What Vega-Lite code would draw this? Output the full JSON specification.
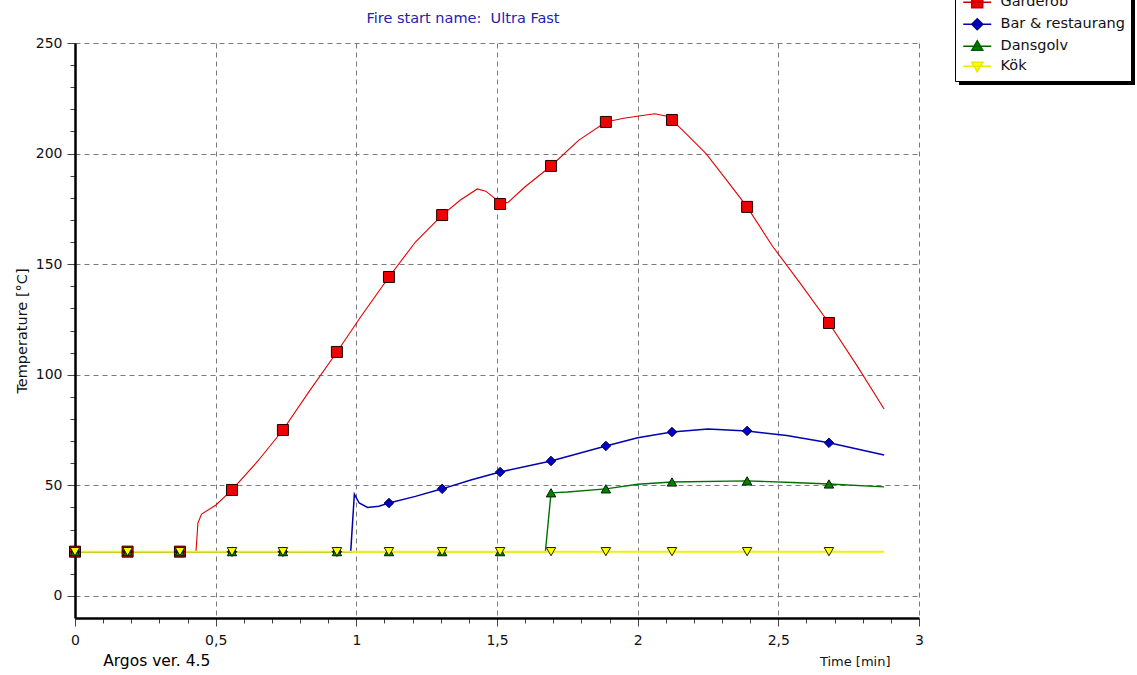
{
  "$schema": "https://vega.github.io/schema/vega-lite/v6.json",
  "width": 844,
  "height": 575,
  "autosize": {"type": "none"},
  "padding": {"left": 75, "top": 43, "right": 218, "bottom": 57},
  "background": "white",
  "title": {"text": "Fire start name:\u00a0 Ultra Fast", "color": "#2222b0", "font": "DejaVu Sans", "fontSize": 14.5, "fontWeight": "normal", "anchor": "middle", "frame": "group", "dx": -34, "dy": 38, "offset": 0},
  "config": {"view": {"stroke": null}, "font": "DejaVu Sans"},
  "datasets": {
    "series": [
    {"s": "Garderob", "t": 0, "T": 20, "m": 1},
    {"s": "Garderob", "t": 0.187, "T": 20, "m": 1},
    {"s": "Garderob", "t": 0.373, "T": 20, "m": 1},
    {"s": "Garderob", "t": 0.43, "T": 20, "m": 0},
    {"s": "Garderob", "t": 0.437, "T": 33, "m": 0},
    {"s": "Garderob", "t": 0.45, "T": 37, "m": 0},
    {"s": "Garderob", "t": 0.5, "T": 41, "m": 0},
    {"s": "Garderob", "t": 0.558, "T": 47.9, "m": 1},
    {"s": "Garderob", "t": 0.65, "T": 61, "m": 0},
    {"s": "Garderob", "t": 0.739, "T": 75, "m": 1},
    {"s": "Garderob", "t": 0.83, "T": 92, "m": 0},
    {"s": "Garderob", "t": 0.931, "T": 110.3, "m": 1},
    {"s": "Garderob", "t": 1.02, "T": 127, "m": 0},
    {"s": "Garderob", "t": 1.116, "T": 144.2, "m": 1},
    {"s": "Garderob", "t": 1.21, "T": 160, "m": 0},
    {"s": "Garderob", "t": 1.305, "T": 172.2, "m": 1},
    {"s": "Garderob", "t": 1.37, "T": 179, "m": 0},
    {"s": "Garderob", "t": 1.43, "T": 184, "m": 0},
    {"s": "Garderob", "t": 1.46, "T": 183, "m": 0},
    {"s": "Garderob", "t": 1.49, "T": 180, "m": 0},
    {"s": "Garderob", "t": 1.511, "T": 177.2, "m": 1},
    {"s": "Garderob", "t": 1.54, "T": 178, "m": 0},
    {"s": "Garderob", "t": 1.6, "T": 185, "m": 0},
    {"s": "Garderob", "t": 1.692, "T": 194.4, "m": 1},
    {"s": "Garderob", "t": 1.79, "T": 206, "m": 0},
    {"s": "Garderob", "t": 1.887, "T": 214.3, "m": 1},
    {"s": "Garderob", "t": 1.95, "T": 216, "m": 0},
    {"s": "Garderob", "t": 2.06, "T": 218, "m": 0},
    {"s": "Garderob", "t": 2.1, "T": 217, "m": 0},
    {"s": "Garderob", "t": 2.122, "T": 215.2, "m": 1},
    {"s": "Garderob", "t": 2.18, "T": 208, "m": 0},
    {"s": "Garderob", "t": 2.243, "T": 200, "m": 0},
    {"s": "Garderob", "t": 2.31, "T": 189, "m": 0},
    {"s": "Garderob", "t": 2.389, "T": 175.9, "m": 1},
    {"s": "Garderob", "t": 2.48, "T": 158, "m": 0},
    {"s": "Garderob", "t": 2.58, "T": 141, "m": 0},
    {"s": "Garderob", "t": 2.68, "T": 123.4, "m": 1},
    {"s": "Garderob", "t": 2.78, "T": 104, "m": 0},
    {"s": "Garderob", "t": 2.876, "T": 84.5, "m": 0},
    {"s": "Bar & restaurang", "t": 0, "T": 20, "m": 1},
    {"s": "Bar & restaurang", "t": 0.187, "T": 20, "m": 1},
    {"s": "Bar & restaurang", "t": 0.373, "T": 20, "m": 1},
    {"s": "Bar & restaurang", "t": 0.558, "T": 20, "m": 1},
    {"s": "Bar & restaurang", "t": 0.739, "T": 20, "m": 1},
    {"s": "Bar & restaurang", "t": 0.931, "T": 20, "m": 1},
    {"s": "Bar & restaurang", "t": 0.98, "T": 20, "m": 0},
    {"s": "Bar & restaurang", "t": 0.993, "T": 46, "m": 0},
    {"s": "Bar & restaurang", "t": 1.01, "T": 42, "m": 0},
    {"s": "Bar & restaurang", "t": 1.04, "T": 40, "m": 0},
    {"s": "Bar & restaurang", "t": 1.08, "T": 40.5, "m": 0},
    {"s": "Bar & restaurang", "t": 1.116, "T": 42, "m": 1},
    {"s": "Bar & restaurang", "t": 1.21, "T": 45, "m": 0},
    {"s": "Bar & restaurang", "t": 1.305, "T": 48.4, "m": 1},
    {"s": "Bar & restaurang", "t": 1.41, "T": 52.5, "m": 0},
    {"s": "Bar & restaurang", "t": 1.511, "T": 56, "m": 1},
    {"s": "Bar & restaurang", "t": 1.692, "T": 61, "m": 1},
    {"s": "Bar & restaurang", "t": 1.887, "T": 67.8, "m": 1},
    {"s": "Bar & restaurang", "t": 2.0, "T": 71.5, "m": 0},
    {"s": "Bar & restaurang", "t": 2.122, "T": 74.1, "m": 1},
    {"s": "Bar & restaurang", "t": 2.25, "T": 75.5, "m": 0},
    {"s": "Bar & restaurang", "t": 2.389, "T": 74.6, "m": 1},
    {"s": "Bar & restaurang", "t": 2.53, "T": 72.5, "m": 0},
    {"s": "Bar & restaurang", "t": 2.68, "T": 69.2, "m": 1},
    {"s": "Bar & restaurang", "t": 2.876, "T": 63.7, "m": 0},
    {"s": "Dansgolv", "t": 0, "T": 20, "m": 1},
    {"s": "Dansgolv", "t": 0.187, "T": 20, "m": 1},
    {"s": "Dansgolv", "t": 0.373, "T": 20, "m": 1},
    {"s": "Dansgolv", "t": 0.558, "T": 20, "m": 1},
    {"s": "Dansgolv", "t": 0.739, "T": 20, "m": 1},
    {"s": "Dansgolv", "t": 0.931, "T": 20, "m": 1},
    {"s": "Dansgolv", "t": 1.116, "T": 20, "m": 1},
    {"s": "Dansgolv", "t": 1.305, "T": 20, "m": 1},
    {"s": "Dansgolv", "t": 1.511, "T": 20, "m": 1},
    {"s": "Dansgolv", "t": 1.672, "T": 20, "m": 0},
    {"s": "Dansgolv", "t": 1.692, "T": 46.6, "m": 1},
    {"s": "Dansgolv", "t": 1.75, "T": 47, "m": 0},
    {"s": "Dansgolv", "t": 1.887, "T": 48.4, "m": 1},
    {"s": "Dansgolv", "t": 2.0, "T": 50.5, "m": 0},
    {"s": "Dansgolv", "t": 2.122, "T": 51.5, "m": 1},
    {"s": "Dansgolv", "t": 2.389, "T": 52, "m": 1},
    {"s": "Dansgolv", "t": 2.55, "T": 51.3, "m": 0},
    {"s": "Dansgolv", "t": 2.68, "T": 50.6, "m": 1},
    {"s": "Dansgolv", "t": 2.876, "T": 49.3, "m": 0},
    {"s": "Kök", "t": 0, "T": 20, "m": 1},
    {"s": "Kök", "t": 0.187, "T": 20, "m": 1},
    {"s": "Kök", "t": 0.373, "T": 20, "m": 1},
    {"s": "Kök", "t": 0.558, "T": 20, "m": 1},
    {"s": "Kök", "t": 0.739, "T": 20, "m": 1},
    {"s": "Kök", "t": 0.931, "T": 20, "m": 1},
    {"s": "Kök", "t": 1.116, "T": 20, "m": 1},
    {"s": "Kök", "t": 1.305, "T": 20, "m": 1},
    {"s": "Kök", "t": 1.511, "T": 20, "m": 1},
    {"s": "Kök", "t": 1.692, "T": 20, "m": 1},
    {"s": "Kök", "t": 1.887, "T": 20, "m": 1},
    {"s": "Kök", "t": 2.122, "T": 20, "m": 1},
    {"s": "Kök", "t": 2.389, "T": 20, "m": 1},
    {"s": "Kök", "t": 2.68, "T": 20, "m": 1},
    {"s": "Kök", "t": 2.876, "T": 20, "m": 0}
  ]},
  "data": {"name": "series"},
  "encoding": {
    "x": {"field": "t", "type": "quantitative", "scale": {"domain": [0, 3], "nice": false, "zero": false},
      "axis": {
        "values": [0,0.1,0.2,0.3,0.4,0.5,0.6,0.7,0.8,0.9,1,1.1,1.2,1.3,1.4,1.5,1.6,1.7,1.8,1.9,2,2.1,2.2,2.3,2.4,2.5,2.6,2.7,2.8,2.9,3],
        "labelExpr": "abs(datum.value*2 - round(datum.value*2)) < 0.001 ? replace(format(datum.value, '~g'), '.', ',') : ''",
        "tickSize": {"condition": {"test": "abs(datum.value*2 - round(datum.value*2)) < 0.001", "value": 8}, "value": 5},
        "gridOpacity": {"condition": {"test": "abs(datum.value*2 - round(datum.value*2)) < 0.001", "value": 1}, "value": 0},
        "grid": true, "gridColor": "#7a7a7a", "gridDash": [5, 4], "gridWidth": 1,
        "domainColor": "black", "domainWidth": 2.5, "tickColor": "#444", "tickWidth": 1,
        "labelFlush": false, "labelOverlap": false, "labelFontSize": 14, "labelColor": "#111", "labelPadding": 7, "labelFont": "DejaVu Sans",
        "title": "Time [min]", "titleX": 815, "titleY": 43, "titleAlign": "right", "titleBaseline": "middle", "titleFontSize": 13, "titleFontWeight": "normal", "titleColor": "#111", "titleFont": "DejaVu Sans"
      }},
    "y": {"field": "T", "type": "quantitative", "scale": {"domain": [-10, 250], "nice": false, "zero": false},
      "axis": {
        "values": [0,10,20,30,40,50,60,70,80,90,100,110,120,130,140,150,160,170,180,190,200,210,220,230,240,250],
        "labelExpr": "datum.value % 50 == 0 ? datum.label : ''",
        "tickSize": {"condition": {"test": "datum.value % 50 == 0", "value": 8}, "value": 5},
        "gridOpacity": {"condition": {"test": "datum.value % 50 == 0", "value": 1}, "value": 0},
        "grid": true, "gridColor": "#7a7a7a", "gridDash": [5, 4], "gridWidth": 1,
        "domainColor": "black", "domainWidth": 2.5, "tickColor": "#444", "tickWidth": 1,
        "labelOverlap": false, "labelFontSize": 14, "labelColor": "#111", "labelPadding": 5, "labelFont": "DejaVu Sans",
        "title": "Temperature [°C]", "titleFontSize": 14.5, "titleFontWeight": "normal", "titleColor": "#111", "titlePadding": 6, "titleFont": "DejaVu Sans"
      }}
  },
  "layer": [
    {
      "transform": [{"filter": "datum.m == 1"}],
      "mark": {"type": "point", "filled": true, "strokeWidth": 1.2, "opacity": 0},
      "encoding": {
        "fill": {"field": "s", "type": "nominal", "scale": {"domain": ["Garderob", "Bar & restaurang", "Dansgolv", "Kök"], "range": ["#f00000", "#0000c8", "#008000", "#ffff00"]}},
        "stroke": {"field": "s", "type": "nominal", "scale": {"domain": ["Garderob", "Bar & restaurang", "Dansgolv", "Kök"], "range": ["#c00000", "#0000a0", "#006000", "#e8e800"]}},
        "shape": {"field": "s", "type": "nominal",
          "scale": {"domain": ["Garderob", "Bar & restaurang", "Dansgolv", "Kök"], "range": [
            "M-2.8,0H2.8M-1.1,-1.1H1.1V1.1H-1.1Z",
            "M-2.8,0H2.8M0,-1.1L1.1,0L0,1.1L-1.1,0Z",
            "M-2.8,0H2.8M0,-1.1L1.1,0.8L-1.1,0.8Z",
            "M-2.8,0H2.8M0,1.1L1.1,-0.8L-1.1,-0.8Z"]},
          "legend": {"title": null, "orient": "none", "legendX": 880, "legendY": -54, "zindex": 2, "fillColor": "white", "strokeColor": "black", "padding": 6, "labelFontSize": 14.5, "labelFont": "DejaVu Sans", "labelColor": "#111", "symbolSize": 100, "symbolOpacity": 1, "symbolOffset": 9, "labelOffset": 16, "rowPadding": 4, "labelLimit": 250}}
      }
    },
    {
      "transform": [{"filter": "datum.s == 'Garderob'"}],
      "mark": {"type": "line", "color": "#e00000", "strokeWidth": 1.1}
    },
    {
      "transform": [{"filter": "datum.s == 'Bar & restaurang'"}],
      "mark": {"type": "line", "color": "#0000b0", "strokeWidth": 1.5}
    },
    {
      "transform": [{"filter": "datum.s == 'Dansgolv'"}],
      "mark": {"type": "line", "color": "#007000", "strokeWidth": 1.4}
    },
    {
      "transform": [{"filter": "datum.s == 'Kök'"}],
      "mark": {"type": "line", "color": "#f2f200", "strokeWidth": 2}
    },
    {
      "transform": [{"filter": "datum.s == 'Garderob' && datum.m == 1"}],
      "mark": {"type": "point", "shape": "square", "filled": true, "fill": "#f00000", "stroke": "#200000", "strokeWidth": 1, "opacity": 1, "size": 121}
    },
    {
      "transform": [{"filter": "datum.s == 'Bar & restaurang' && datum.m == 1"}],
      "mark": {"type": "point", "shape": "diamond", "filled": true, "fill": "#0000c8", "stroke": "#000040", "strokeWidth": 1, "opacity": 1, "size": 90}
    },
    {
      "transform": [{"filter": "datum.s == 'Dansgolv' && datum.m == 1"}],
      "mark": {"type": "point", "shape": "triangle-up", "filled": true, "fill": "#008000", "stroke": "#002000", "strokeWidth": 1, "opacity": 1, "size": 90}
    },
    {
      "transform": [{"filter": "datum.s == 'Kök' && datum.m == 1"}],
      "mark": {"type": "point", "shape": "triangle-down", "filled": true, "fill": "#ffff00", "stroke": "#202000", "strokeWidth": 1, "opacity": 1, "size": 90}
    },
    {
      "transform": [{"filter": "datum.t == 0 && datum.s == 'Kök'"}],
      "mark": {"type": "text", "align": "left", "baseline": "middle", "fontSize": 15.5, "font": "DejaVu Sans"},
      "encoding": {
        "x": {"datum": 0.1},
        "y": {"datum": -29.4},
        "text": {"value": "Argos ver. 4.5"},
        "color": {"datum": 1, "type": "quantitative",
          "scale": {"domain": [0, 1], "range": ["#000000", "#000000"]},
          "legend": {"title": null, "orient": "none", "legendX": 884, "legendY": -50, "zindex": 1, "direction": "vertical", "gradientLength": 92, "gradientThickness": 176, "gradientStrokeWidth": 0, "padding": 0, "labelExpr": "''"}}
      }
    }
  ]
}
